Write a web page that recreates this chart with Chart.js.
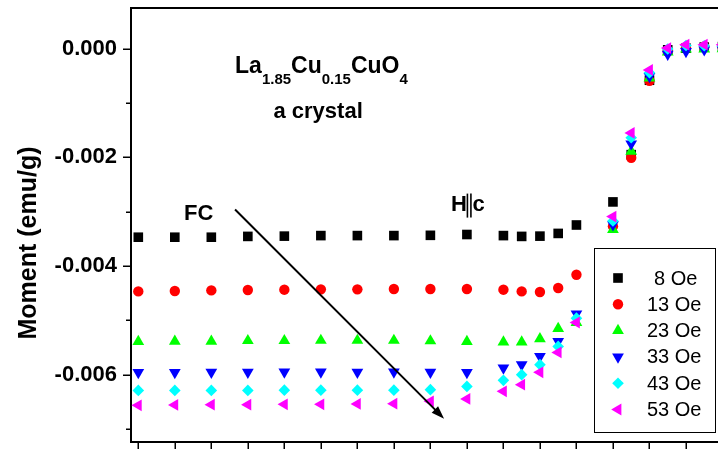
<!DOCTYPE html>
<html>
<head>
<meta charset="utf-8">
<script src="https://cdn.jsdelivr.net/npm/chart.js@4.4.1/dist/chart.umd.min.js"></script>
<style>
  html, body { margin: 0; padding: 0; background: #fff; overflow: hidden; width: 718px; height: 449px; }
  #wrap { position: relative; width: 770px; height: 470px; }
</style>
</head>
<body>
<div id="wrap"><canvas id="c" width="770" height="470"></canvas></div>
<script>
// Temperature (K) of each field-cooled measurement
const temperatures = [5, 7, 9, 11, 13, 15, 17, 19, 21, 23, 25, 26, 27, 28, 29, 31, 32, 33, 34, 35, 36, 37];

// Magnetic moment (emu/g) for each applied field
const moment8Oe  = [-0.00347, -0.00347, -0.00347, -0.003455, -0.00345, -0.00344, -0.00344, -0.00344, -0.003435, -0.00342, -0.00344, -0.003455, -0.00345, -0.00340, -0.003245, -0.00282, -0.00195, -0.00058, -0.00002, 0.00001, 0.00003, 0.00004];
const moment13Oe = [-0.004467, -0.00446, -0.004449, -0.004442, -0.004436, -0.00443, -0.00443, -0.004423, -0.004423, -0.004423, -0.004436, -0.004467, -0.004478, -0.004405, -0.00416, -0.00327, -0.002006, -0.000589, -0.00005, 0.00002, 0.00004, 0.00004];
const moment23Oe = [-0.00539, -0.005385, -0.005385, -0.005375, -0.005375, -0.00537, -0.00537, -0.00537, -0.00538, -0.00539, -0.0054, -0.0054, -0.00534, -0.00515, -0.00504, -0.00333, -0.00189, -0.00054, -0.00006, -0.000005, -0.000005, 0.0];
const moment33Oe = [-0.00596, -0.00596, -0.005955, -0.005955, -0.00595, -0.00595, -0.005955, -0.00595, -0.005955, -0.00596, -0.005877, -0.005816, -0.005663, -0.005387, -0.00488, -0.00324, -0.00175, -0.00051, -0.0001, -0.00005, -0.00002, -0.00002];
const moment43Oe = [-0.00629, -0.00629, -0.00629, -0.00629, -0.006285, -0.006285, -0.006285, -0.006285, -0.006276, -0.006216, -0.006105, -0.006, -0.005816, -0.00548, -0.00496, -0.00317, -0.00164, -0.00044, -0.000005, 0.00006, 0.000055, 0.00005];
const moment53Oe = [-0.006565, -0.006558, -0.006553, -0.006553, -0.006547, -0.006547, -0.00654, -0.006534, -0.006492, -0.006448, -0.006307, -0.006184, -0.005958, -0.00559, -0.00504, -0.00309, -0.00155, -0.00039, 0.000013, 0.000074, 0.000074, 0.000074];

const fieldLabels = ['8 Oe', '13 Oe', '23 Oe', '33 Oe', '43 Oe', '53 Oe'];

// Axis ticks (ascending)
const yTickValues = [-0.007, -0.006, -0.005, -0.004, -0.003, -0.002, -0.001, 0];
const yTickLabels = ['', '-0.006', '', '-0.004', '', '-0.002', '', '0.000'];
const xTickValues = [5, 7, 9, 11, 13, 15, 17, 19, 21, 23, 25, 27, 29, 31, 33, 35, 37, 39];

const FONT = "'Liberation Sans', Arial, Helvetica, sans-serif";

const seriesStyle = [
  { color: '#000000', pointStyle: 'rect',     radius: 6.8, rotation: 0 },
  { color: '#ff0000', pointStyle: 'circle',   radius: 5.2, rotation: 0 },
  { color: '#00ff00', pointStyle: 'triangle', radius: 6.8, rotation: 0 },
  { color: '#0000ff', pointStyle: 'triangle', radius: 6.8, rotation: 180 },
  { color: '#00ffff', pointStyle: 'rectRot',  radius: 5.8, rotation: 0 },
  { color: '#ff00ff', pointStyle: 'triangle', radius: 6.8, rotation: -90 }
];
const seriesValues = [moment8Oe, moment13Oe, moment23Oe, moment33Oe, moment43Oe, moment53Oe];

const datasets = seriesValues.map((vals, i) => ({
  label: fieldLabels[i],
  data: temperatures.map((t, k) => ({ x: t, y: vals[k] })),
  showLine: false,
  pointStyle: seriesStyle[i].pointStyle,
  pointRadius: seriesStyle[i].radius,
  pointRotation: seriesStyle[i].rotation,
  pointBackgroundColor: seriesStyle[i].color,
  pointBorderColor: seriesStyle[i].color,
  pointBorderWidth: 0,
  pointHoverRadius: seriesStyle[i].radius,
  order: seriesValues.length - i
}));

// Text notes placed in data coordinates
const formulaRuns = [
  { t: 'La', sub: false }, { t: '1.85', sub: true },
  { t: 'Cu', sub: false }, { t: '0.15', sub: true },
  { t: 'CuO', sub: false }, { t: '4', sub: true }
];
const formulaAt = { x: 10.3, y: -0.00044 };
const crystalAt = { x: 14.85, y: -0.00127 };
const fcAt = { x: 7.5, y: -0.00316 };
const hcAt = { x: 22.13, y: -0.00298 };
const arrowFrom = { x: 10.3, y: -0.00296 };
const arrowTo = { x: 21.75, y: -0.00681 };

const decorations = {
  id: 'decorations',
  afterDatasetsDraw(chart) {
    const { ctx, chartArea: a, scales: { x, y } } = chart;
    ctx.save();
    ctx.strokeStyle = '#000';
    ctx.fillStyle = '#000';

    // top frame line
    ctx.lineWidth = 2;
    ctx.beginPath(); ctx.moveTo(a.left - 1, a.top); ctx.lineTo(a.right, a.top); ctx.stroke();

    // tick marks (major / minor)
    ctx.lineWidth = 1.5;
    yTickValues.forEach((v, i) => {
      const py = Math.round(y.getPixelForValue(v)) + 0.25;
      const len = yTickLabels[i] ? 8 : 5;
      ctx.beginPath(); ctx.moveTo(a.left - len, py); ctx.lineTo(a.left, py); ctx.stroke();
    });
    xTickValues.forEach(v => {
      const px = Math.round(x.getPixelForValue(v)) + 0.25;
      ctx.beginPath(); ctx.moveTo(px, a.bottom); ctx.lineTo(px, a.bottom + 9); ctx.stroke();
    });

    // y axis title
    ctx.save();
    ctx.translate(29, (a.top + a.bottom) / 2 + 18);
    ctx.rotate(-Math.PI / 2);
    ctx.font = `bold 25px ${FONT}`;
    ctx.textAlign = 'center';
    ctx.textBaseline = 'middle';
    ctx.fillText('Moment (emu/g)', 0, 0);
    ctx.restore();

    // chemical formula with subscripts
    let fx = x.getPixelForValue(formulaAt.x);
    const fy = y.getPixelForValue(formulaAt.y);
    ctx.textAlign = 'left';
    ctx.textBaseline = 'alphabetic';
    formulaRuns.forEach(r => {
      ctx.font = r.sub ? `bold 15px ${FONT}` : `bold 23px ${FONT}`;
      ctx.fillText(r.t, fx, r.sub ? fy + 11 : fy);
      fx += ctx.measureText(r.t).width;
    });

    ctx.font = `bold 22px ${FONT}`;
    ctx.textAlign = 'center';
    ctx.fillText('a crystal', x.getPixelForValue(crystalAt.x), y.getPixelForValue(crystalAt.y));

    ctx.textAlign = 'left';
    ctx.fillText('FC', x.getPixelForValue(fcAt.x), y.getPixelForValue(fcAt.y));

    // H || c
    const hx = x.getPixelForValue(hcAt.x);
    const hy = y.getPixelForValue(hcAt.y);
    ctx.fillText('H', hx, hy);
    const hw = ctx.measureText('H').width;
    ctx.lineWidth = 1.6;
    [hx + hw + 0.5, hx + hw + 4].forEach(lx => {
      ctx.beginPath(); ctx.moveTo(lx, hy - 17); ctx.lineTo(lx, hy + 7); ctx.stroke();
    });
    ctx.fillText('c', hx + hw + 5.5, hy);

    // cooling arrow
    const ax1 = x.getPixelForValue(arrowFrom.x), ay1 = y.getPixelForValue(arrowFrom.y);
    const ax2 = x.getPixelForValue(arrowTo.x), ay2 = y.getPixelForValue(arrowTo.y);
    const ang = Math.atan2(ay2 - ay1, ax2 - ax1);
    const headLen = 13, headHalf = 4.5;
    const bx = ax2 - headLen * Math.cos(ang), by = ay2 - headLen * Math.sin(ang);
    ctx.lineWidth = 2;
    ctx.beginPath(); ctx.moveTo(ax1, ay1); ctx.lineTo(bx + 2 * Math.cos(ang), by + 2 * Math.sin(ang)); ctx.stroke();
    ctx.beginPath();
    ctx.moveTo(ax2, ay2);
    ctx.lineTo(bx - headHalf * Math.sin(ang), by + headHalf * Math.cos(ang));
    ctx.lineTo(bx + headHalf * Math.sin(ang), by - headHalf * Math.cos(ang));
    ctx.closePath();
    ctx.fill();

    // legend box
    const L = { left: 594, top: 248, right: 715, bottom: 432 };
    ctx.lineWidth = 1;
    ctx.strokeRect(L.left + 0.5, L.top + 0.5, L.right - L.left, L.bottom - L.top);
    ctx.font = `20px ${FONT}`;
    ctx.textAlign = 'left';
    ctx.textBaseline = 'middle';
    fieldLabels.forEach((lab, i) => {
      const ly = L.top + 30 + i * 26.3;
      const st = seriesStyle[i];
      ctx.fillStyle = st.color;
      Chart.helpers.drawPoint(ctx, { pointStyle: st.pointStyle, radius: st.radius, rotation: st.rotation, borderWidth: 0 }, L.left + 24, ly);
      ctx.fillStyle = '#000';
      ctx.fillText(lab, i === 0 ? 654 : 647, ly + 1);
    });
    ctx.restore();
  }
};

new Chart(document.getElementById('c'), {
  type: 'scatter',
  data: { datasets },
  options: {
    responsive: false,
    animation: false,
    devicePixelRatio: 1,
    layout: { padding: { top: 8, right: 11, bottom: 0, left: 0 } },
    plugins: { legend: { display: false }, tooltip: { enabled: false } },
    scales: {
      x: {
        type: 'linear',
        min: 4.6,
        max: 39,
        grid: { display: false, drawTicks: false },
        border: { display: true, color: '#000', width: 2 },
        ticks: { display: false },
        afterFit(scale) { scale.height = 28; scale.paddingLeft = 0; scale.paddingRight = 0; }
      },
      y: {
        type: 'linear',
        min: -0.00724,
        max: 0.00075,
        afterBuildTicks(scale) { scale.ticks = yTickValues.map(v => ({ value: v })); },
        grid: { display: false, drawTicks: false },
        border: { display: true, color: '#000', width: 2 },
        ticks: {
          autoSkip: false,
          padding: 14,
          color: '#000',
          font: { family: FONT, size: 22, weight: 'bold' },
          callback: (v, i) => yTickLabels[i]
        },
        afterFit(scale) { scale.width = 131; scale.paddingTop = 0; scale.paddingBottom = 0; }
      }
    }
  },
  plugins: [decorations]
});
</script>
</body>
</html>
